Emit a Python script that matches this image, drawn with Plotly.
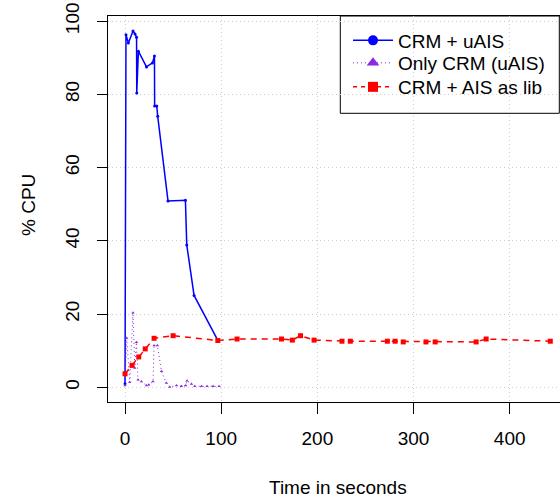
import plotly.graph_objects as go

# ---- data ----
crm_uais_x = [0, 1, 3.5, 8.3, 10.4, 12.0, 12.2, 13.9, 22.3, 28.5, 30.6, 30.8, 33.0, 34.0, 44.7, 62.8, 64.2, 71.8, 97.2]
crm_uais_y = [1.0, 96.3, 94.0, 97.3, 96.5, 95.6, 80.4, 91.8, 87.5, 88.6, 90.5, 76.8, 76.8, 74.0, 50.9, 51.1, 38.9, 25.1, 12.5]

only_crm_x = [0, 1.8, 4.9, 8.3, 10.1, 11.9, 13.5, 17.0, 22.3, 24.7, 29.1, 30.2, 33.7, 37.9, 43.0, 46.5,
              53.5, 58.7, 63.2, 64.5, 69.1, 72.5, 79.5, 85.3, 91.6, 97.8]
only_crm_y = [0.5, 13.5, 1.4, 20.4, 5.3, 12.3, 2.1, 1.6, 0.5, 0.7, 1.6, 11.4, 11.4, 4.4, 1.2, 0.1,
              0.5, 0.3, 0.5, 1.8, 0.9, 0.3, 0.3, 0.3, 0.3, 0.3]

crm_ais_lib_x = [0, 7.3, 14.3, 21.0, 30.2, 50.0, 96.5, 116.5, 162.7, 174.0, 182.5, 196.6, 225.6, 234.3,
                 272.8, 280.8, 289.3, 312.9, 322.5, 365.1, 375.5, 442.2]
crm_ais_lib_y = [3.7, 6.0, 8.3, 10.5, 13.4, 14.1, 12.8, 13.2, 13.2, 12.9, 14.1, 12.9, 12.6, 12.6,
                 12.6, 12.6, 12.4, 12.4, 12.4, 12.4, 13.2, 12.6]

series_names = ["CRM + uAIS", "Only CRM (uAIS)", "CRM + AIS as lib"]
x_ticks = [0, 100, 200, 300, 400]
y_ticks = [0, 20, 40, 60, 80, 100]
x_title = "Time in seconds"
y_title = "% CPU"

# ---- styles ----
FONT = "Liberation Sans, Arial, Helvetica, sans-serif"
FS = 19
BLUE = "#0000FF"
PURPLE = "#8A2BE2"
RED = "#FF0000"
GRID = "#cccccc"

W, H = 560, 499
L, R, T, B = 108, 0, 16, 97
pw = W - L - R
ph = H - T - B

fig = go.Figure()

fig.add_trace(go.Scatter(
    x=crm_uais_x, y=crm_uais_y, mode="lines+markers", showlegend=False,
    line=dict(color=BLUE, width=1.5), marker=dict(symbol="circle", size=3, color=BLUE)))
fig.add_trace(go.Scatter(
    x=only_crm_x, y=only_crm_y, mode="lines+markers", showlegend=False,
    line=dict(color=PURPLE, width=1, dash="1px,3px"),
    marker=dict(symbol="triangle-up", size=3, color=PURPLE)))
fig.add_trace(go.Scatter(
    x=crm_ais_lib_x, y=crm_ais_lib_y, mode="lines+markers", showlegend=False,
    line=dict(color=RED, width=1.5, dash="6px,5px"),
    marker=dict(symbol="square", size=5, color=RED)))

# legend entries (larger symbols, as in the reference legend), one legend per entry
fig.add_trace(go.Scatter(x=[None], y=[None], mode="lines+markers", name=series_names[0], legend="legend",
                         line=dict(color=BLUE, width=1.5), marker=dict(symbol="circle", size=10, color=BLUE)))
fig.add_trace(go.Scatter(x=[None], y=[None], mode="lines+markers", name=series_names[1], legend="legend2",
                         line=dict(color=PURPLE, width=1, dash="1px,3px"),
                         marker=dict(symbol="triangle-up", size=11, color=PURPLE)))
fig.add_trace(go.Scatter(x=[None], y=[None], mode="lines+markers", name=series_names[2], legend="legend3",
                         line=dict(color=RED, width=1.5, dash="4px,4px"),
                         marker=dict(symbol="square", size=10, color=RED)))


def leg(top_px):
    return dict(
        x=(348 - L) / pw, y=1 - (top_px - T) / ph, xanchor="left", yanchor="top",
        bgcolor="rgba(0,0,0,0)", borderwidth=0,
        font=dict(family=FONT, size=FS, color="black"),
        itemwidth=40, tracegroupgap=0,
    )


fig.update_layout(
    width=W, height=H,
    margin=dict(l=L, r=R, t=T, b=B, pad=0),
    paper_bgcolor="white", plot_bgcolor="white",
    font=dict(family=FONT, size=FS, color="black"),
    showlegend=True,
    legend=leg(21.5),
    legend2=leg(44.0),
    legend3=leg(68.0),
    xaxis=dict(
        range=[-17.7, 452.3], tickvals=x_ticks, ticktext=[str(v) for v in x_ticks],
        showgrid=True, gridcolor=GRID, griddash="1px,3px", gridwidth=1,
        zeroline=False, showline=True, linecolor="black", linewidth=1, mirror=True,
        ticks="outside", ticklen=11, tickwidth=1, tickcolor="black",
        ticklabelstandoff=8,
    ),
    yaxis=dict(
        range=[-4.0, 101.4], tickvals=y_ticks, ticktext=[str(v) for v in y_ticks],
        tickangle=-90,
        showgrid=True, gridcolor=GRID, griddash="1px,3px", gridwidth=1,
        zeroline=False, showline=True, linecolor="black", linewidth=1, mirror=False,
        ticks="outside", ticklen=10, tickwidth=1, tickcolor="black",
        ticklabelstandoff=10,
    ),
    shapes=[
        dict(type="rect", xref="paper", yref="paper",
             x0=(340.3 - L) / pw, x1=(559.3 - L) / pw,
             y0=1 - (113.3 - T) / ph, y1=1.0,
             line=dict(color="black", width=1), fillcolor="white", layer="below"),
    ],
    annotations=[
        dict(text=x_title, xref="paper", yref="paper", x=(338 - L) / pw, y=-(488 - (H - B)) / ph,
             xanchor="center", yanchor="middle", showarrow=False, font=dict(family=FONT, size=FS)),
        dict(text=y_title, xref="paper", yref="paper", x=-(L - 28) / pw, y=1 - (205 - T) / ph,
             xanchor="center", yanchor="middle", textangle=-90, showarrow=False,
             font=dict(family=FONT, size=FS)),
    ],
)

fig.write_html("out.html", config={"displayModeBar": False},
               post_script="document.body.style.margin='0px';document.body.style.overflow='hidden';")
